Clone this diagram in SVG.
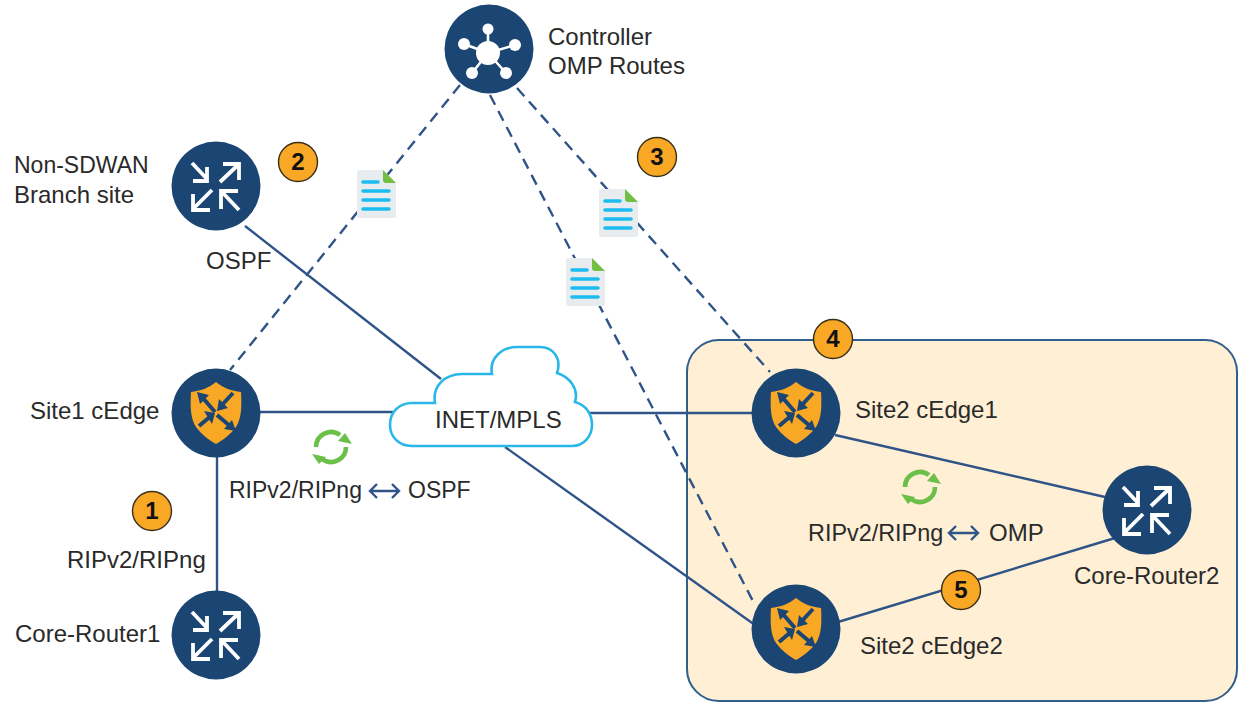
<svg xmlns="http://www.w3.org/2000/svg" width="1248" height="703" viewBox="0 0 1248 703">
<style>
text{font-family:"Liberation Sans",Arial,sans-serif;font-size:24px;fill:#2a2a2a}
.disc{fill:#1b4674}
.solid{fill:none;stroke:#2f5487;stroke-width:2.4}
.dash{fill:none;stroke:#2f5487;stroke-width:2.4;stroke-dasharray:11 7}
.wa{fill:none;stroke:#fff;stroke-width:3.8}
.na{fill:none;stroke:#1b4674;stroke-width:4}
.badge{fill:#f9a825;stroke:#3a3018;stroke-width:1.4}
.bt{font-weight:bold;font-size:24px;fill:#111;text-anchor:middle}
.sync{fill:none;stroke:#6cc04a;stroke-width:4.6}
.dbl{fill:none;stroke:#2f5487;stroke-width:2.4}
.sm{font-size:23px}
.md{font-size:23.4px}
</style>
<defs>
<g id="router">
<circle class="disc" r="44.5"/>
<path class="wa" d="M-24-23L-9-7M-23-5H-9V-19M4-4L22-21M7-22H23V-6M-4 4L-22 22M-23 8V24H-6M23 24L6 6M22 5H5V23"/>
</g>
<g id="edge">
<circle class="disc" r="44.5"/>
<path fill="#f9a825" d="M0-31C-7-25-16-22-25-21C-26-4-25 6-20 14C-14 22-7 27 0 31C7 27 14 22 20 14C25 6 26-4 25-21C16-22 7-25 0-31Z"/>
<path class="na" d="M-1-1L-14-16M17-20L5-7M-17 13L-4 2M1 2L14 13"/>
<path fill="#1b4674" d="M-19-21L-7-18L-16-9ZM1-2L12-5L3-14ZM-1 0L-4 11L-12-2ZM20 18L8 16L16 7Z"/>
</g>
<g id="doc">
<path fill="#e9ecee" d="M2 0H26L39 13V46Q39 48 37 48H2Q0 48 0 46V2Q0 0 2 0Z"/>
<path fill="#72bf44" d="M26 0L39 13H29Q26 13 26 10Z"/>
<path stroke="#1cbcf0" stroke-width="3.6" stroke-linecap="round" d="M6 12H21M6 21H32M6 30H32M6 39H32"/>
</g>
<g id="sync">
<path class="sync" d="M-15 0A15 15 0 0 1 9-12M15 0A15 15 0 0 1-9 12"/>
<path fill="#6cc04a" d="M6-8L20-5L13-16ZM-20 5L-6 8L-13 15Z" transform="translate(1 2)"/>
</g>
<g id="dbl">
<path class="dbl" d="M1 0H30M8-7L1 0L8 7M23-7L30 0L23 7"/>
</g>
</defs>

<g id="site2-zone"><rect x="687" y="340" width="550" height="361" rx="32" fill="#feefd5" stroke="#2f5f8a" stroke-width="2"/></g>

<g id="connectors">
<path class="solid" d="M245 226L441 379"/>
<path class="solid" d="M260 412H393"/>
<path class="solid" d="M590 413H752"/>
<path class="solid" d="M505 447L755 625"/>
<path class="solid" d="M217 457V591"/>
<path class="solid" d="M835 435L1105 497"/>
<path class="solid" d="M838 622L1115 538"/>
<path class="dash" d="M460 85L230 370"/>
<path class="dash" d="M490 95L755 605"/>
<path class="dash" d="M517 88L770 372"/>
</g>

<g id="cloud"><path fill="#fff" stroke="#29b6e8" stroke-width="2.6" d="M412 446C398 446 390 436 390 425C390 412 399 403 412 403H435C432 386 445 374 462 374H492C489 358 502 347 517 347H540C553 347 562 358 557 373C570 377 579 389 575 402C586 405 592 414 592 425C592 436 584 446 572 446Z"/><text x="435" y="428">INET/MPLS</text></g>

<g id="doc1"><use href="#doc" x="357" y="170"/></g>
<g id="doc2"><use href="#doc" x="599" y="189"/></g>
<g id="doc3"><use href="#doc" x="566" y="258"/></g>

<g id="controller">
<circle class="disc" cx="489" cy="49" r="44.5"/>
<g stroke="#fff" stroke-width="2.6"><path d="M488 53L488 29M488 53L464 44M488 53L515 45M488 53L472 73M488 53L506 73"/></g>
<g fill="#fff"><circle cx="488" cy="53" r="12"/><circle cx="488" cy="29" r="5.5"/><circle cx="464" cy="44" r="6"/><circle cx="515" cy="45" r="6"/><circle cx="472" cy="73" r="6"/><circle cx="506" cy="73" r="6"/></g>
<text x="548" y="45">Controller</text><text x="548" y="74">OMP Routes</text>
</g>
<g id="non-sdwan"><use href="#router" x="216" y="186"/><text class="sm" x="14" y="173">Non-SDWAN</text><text x="14" y="203">Branch site</text></g>
<g id="site1-cedge"><use href="#edge" x="216" y="413"/><text x="30" y="419">Site1 cEdge</text></g>
<g id="core-router1"><use href="#router" x="216" y="635"/><text x="15" y="642">Core-Router1</text></g>
<g id="site2-cedge1"><use href="#edge" x="796" y="413"/><text x="855" y="418">Site2 cEdge1</text></g>
<g id="site2-cedge2"><use href="#edge" x="796" y="629"/><text x="860" y="654">Site2 cEdge2</text></g>
<g id="core-router2"><use href="#router" x="1147" y="510"/><text x="1074" y="584">Core-Router2</text></g>

<g id="labels">
<text x="206" y="269">OSPF</text>
<text x="67" y="568">RIPv2/RIPng</text>
<text class="sm" x="229" y="498">RIPv2/RIPng</text><use href="#dbl" x="369" y="491"/><text class="sm" x="408" y="498">OSPF</text>
<text class="md" x="808" y="541">RIPv2/RIPng</text><use href="#dbl" x="948" y="533"/><text x="989" y="541">OMP</text>
<use href="#sync" x="331" y="447"/><use href="#sync" x="920" y="487"/>
</g>

<g id="badge1"><circle class="badge" cx="152" cy="511" r="19.5"/><text class="bt" x="152" y="519">1</text></g>
<g id="badge2"><circle class="badge" cx="298" cy="162" r="19.5"/><text class="bt" x="298" y="170">2</text></g>
<g id="badge3"><circle class="badge" cx="657" cy="157" r="19.5"/><text class="bt" x="657" y="165">3</text></g>
<g id="badge4"><circle class="badge" cx="833" cy="339" r="19.5"/><text class="bt" x="833" y="347">4</text></g>
<g id="badge5"><circle class="badge" cx="961" cy="590" r="19.5"/><text class="bt" x="961" y="598">5</text></g>
</svg>
